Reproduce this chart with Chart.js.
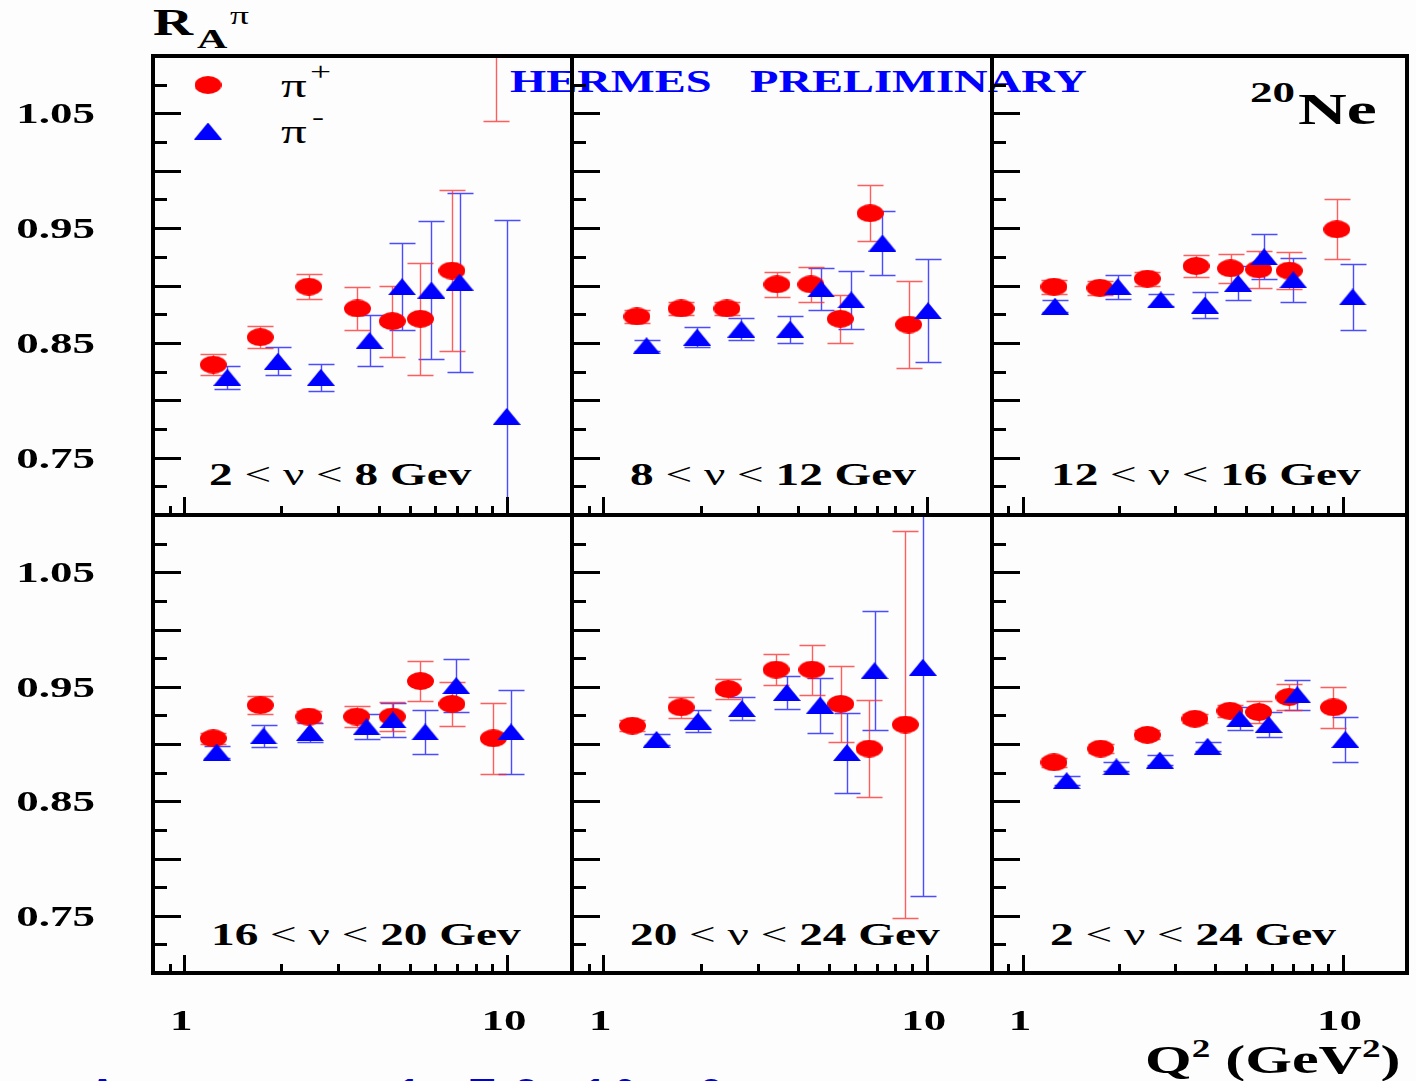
<!DOCTYPE html>
<html>
<head>
<meta charset="utf-8">
<title>R_A pi for 20Ne</title>
<script src="https://cdn.jsdelivr.net/npm/chart.js@4.4.1/dist/chart.umd.min.js"></script>
<style>
  html, body { margin: 0; padding: 0; background: #fdfdfd; }
  #page { position: relative; width: 1416px; height: 1081px; overflow: hidden; background: #fdfdfd; }
  #page canvas { position: absolute; left: 0; top: 0; }
  .t { position: absolute; white-space: pre; line-height: 1; transform: scaleX(1.5); transform-origin: 0 0;
       font-family: "Liberation Serif", "Times New Roman", serif; font-weight: bold; color: #000; }
  .t .n { font-weight: normal; }
  .t .sup { font-size: 0.62em; position: relative; top: -0.62em; }
  .blue { position: absolute; font-family: "Liberation Sans", sans-serif; font-weight: bold; font-size: 40px;
          line-height: 1; color: #0000d8; }
</style>
</head>
<body>
<div id="page"></div>
<script>
// axis ranges and ticks
const xMin = 0.8, xMax = 15.9;
const yMin = 0.70, yMax = 1.10;
const yTicks = [0.70, 0.725, 0.75, 0.775, 0.80, 0.825, 0.85, 0.875, 0.90, 0.925,
                0.95, 0.975, 1.00, 1.025, 1.05, 1.075, 1.10];
const yLabels = ['1.05', '0.95', '0.85', '0.75'];
const xTicks = [0.9, 1, 2, 3, 4, 5, 6, 7, 8, 9, 10];
const xLabels = ['1', '10'];

// 2 < nu < 8 GeV
const q2Plus_2_8   = [1.23, 1.72, 2.43, 3.44, 4.41, 5.39, 6.75, 9.25];
const rPlus_2_8    = [0.831, 0.855, 0.899, 0.880, 0.869, 0.871, 0.913, 1.160];
const errPlus_2_8  = [0.009, 0.0095, 0.0106, 0.019, 0.031, 0.049, 0.070, 0.117];
const q2Minus_2_8  = [1.36, 1.95, 2.65, 3.75, 4.73, 5.83, 7.13, 9.98];
const rMinus_2_8   = [0.820, 0.834, 0.820, 0.852, 0.899, 0.896, 0.903, 0.786];
const errMinus_2_8 = [0.010, 0.012, 0.012, 0.022, 0.038, 0.060, 0.078, 0.171];

// 8 < nu < 12 GeV
const q2Plus_8_12   = [1.27, 1.74, 2.41, 3.44, 4.38, 5.40, 6.68, 8.78];
const rPlus_8_12    = [0.873, 0.880, 0.880, 0.901, 0.901, 0.871, 0.963, 0.866];
const errPlus_8_12  = [0.006, 0.006, 0.006, 0.011, 0.015, 0.021, 0.0245, 0.038];
const q2Minus_8_12  = [1.36, 1.95, 2.67, 3.78, 4.71, 5.84, 7.29, 10.08];
const rMinus_8_12   = [0.8475, 0.855, 0.862, 0.862, 0.897, 0.8875, 0.937, 0.878];
const errMinus_8_12 = [0.005, 0.009, 0.0096, 0.0117, 0.018, 0.025, 0.028, 0.045];

// 12 < nu < 16 GeV
const q2Plus_12_16   = [1.25, 1.74, 2.45, 3.48, 4.46, 5.46, 6.81, 9.59];
const rPlus_12_16    = [0.899, 0.898, 0.906, 0.917, 0.915, 0.914, 0.913, 0.949];
const errPlus_12_16  = [0.006, 0.006, 0.006, 0.0093, 0.0128, 0.016, 0.0163, 0.026];
const q2Minus_12_16  = [1.26, 1.98, 2.70, 3.71, 4.71, 5.68, 7.01, 10.75];
const rMinus_12_16   = [0.882, 0.899, 0.8875, 0.883, 0.902, 0.925, 0.905, 0.890];
const errMinus_12_16 = [0.005, 0.0105, 0.005, 0.0114, 0.0148, 0.0195, 0.019, 0.029];

// 16 < nu < 20 GeV
const q2Plus_16_20   = [1.23, 1.72, 2.43, 3.42, 4.41, 5.39, 6.75, 9.07];
const rPlus_16_20    = [0.905, 0.934, 0.924, 0.924, 0.924, 0.955, 0.935, 0.905];
const errPlus_16_20  = [0.005, 0.0076, 0.005, 0.0095, 0.013, 0.0177, 0.019, 0.031];
const q2Minus_16_20  = [1.26, 1.76, 2.45, 3.67, 4.43, 5.58, 6.96, 10.29];
const rMinus_16_20   = [0.893, 0.907, 0.910, 0.915, 0.921, 0.9105, 0.951, 0.9105];
const errMinus_16_20 = [0.005, 0.010, 0.008, 0.011, 0.015, 0.0196, 0.023, 0.037];

// 20 < nu < 24 GeV
const q2Plus_20_24   = [1.23, 1.74, 2.43, 3.42, 4.41, 5.42, 6.63, 8.58];
const rPlus_20_24    = [0.916, 0.932, 0.948, 0.965, 0.965, 0.935, 0.896, 0.917];
const errPlus_20_24  = [0.005, 0.009, 0.009, 0.0138, 0.0218, 0.033, 0.0426, 0.169];
const q2Minus_20_24  = [1.46, 1.96, 2.68, 3.69, 4.68, 5.66, 6.89, 9.72];
const rMinus_20_24   = [0.904, 0.920, 0.931, 0.945, 0.934, 0.8925, 0.964, 0.967];
const errMinus_20_24 = [0.005, 0.0096, 0.0097, 0.0145, 0.024, 0.035, 0.052, 0.200];

// 2 < nu < 24 GeV (all)
const q2Plus_2_24   = [1.25, 1.75, 2.45, 3.45, 4.44, 5.46, 6.79, 9.36];
const rPlus_2_24    = [0.884, 0.896, 0.908, 0.922, 0.929, 0.928, 0.941, 0.932];
const errPlus_2_24  = [0.004, 0.004, 0.004, 0.004, 0.005, 0.0099, 0.011, 0.018];
const q2Minus_2_24  = [1.37, 1.96, 2.68, 3.78, 4.77, 5.87, 7.21, 10.2];
const rMinus_2_24   = [0.868, 0.880, 0.886, 0.898, 0.922, 0.917, 0.943, 0.904];
const errMinus_2_24 = [0.004, 0.004, 0.004, 0.004, 0.010, 0.0107, 0.013, 0.0195];

const bins = [
  { nu: [2, 8],   plus: [q2Plus_2_8, rPlus_2_8, errPlus_2_8],       minus: [q2Minus_2_8, rMinus_2_8, errMinus_2_8] },
  { nu: [8, 12],  plus: [q2Plus_8_12, rPlus_8_12, errPlus_8_12],    minus: [q2Minus_8_12, rMinus_8_12, errMinus_8_12] },
  { nu: [12, 16], plus: [q2Plus_12_16, rPlus_12_16, errPlus_12_16], minus: [q2Minus_12_16, rMinus_12_16, errMinus_12_16] },
  { nu: [16, 20], plus: [q2Plus_16_20, rPlus_16_20, errPlus_16_20], minus: [q2Minus_16_20, rMinus_16_20, errMinus_16_20] },
  { nu: [20, 24], plus: [q2Plus_20_24, rPlus_20_24, errPlus_20_24], minus: [q2Minus_20_24, rMinus_20_24, errMinus_20_24] },
  { nu: [2, 24],  plus: [q2Plus_2_24, rPlus_2_24, errPlus_2_24],    minus: [q2Minus_2_24, rMinus_2_24, errMinus_2_24] }
];

// panel grid (frame edges in page pixels)
const colX = [153, 572, 992, 1412];
const rowY = [56, 515, 973];
const W = 1416, H = 1081;
const page = document.getElementById('page');

function addText(x, baseline, size, html, extra) {
  const d = document.createElement('div');
  d.className = 't';
  d.style.left = x + 'px';
  d.style.top = (baseline - 0.8375 * size) + 'px';
  d.style.fontSize = size + 'px';
  d.innerHTML = html;
  if (extra) Object.assign(d.style, extra);
  page.appendChild(d);
}

// y axis title R_A^pi
addText(153, 35, 37, 'R');
addText(197, 48, 28, 'A');
addText(230, 24, 25, '<span class="n">π</span>');

addText(510, 92, 31, 'HERMES', { color: '#0000ff' });
addText(750, 92, 31, 'PRELIMINARY', { color: '#0000ff' });
addText(1250, 102, 30, '20');
addText(1298, 125, 45, 'Ne');

// legend labels
addText(281, 97, 34, '<span class="n">π</span>');
addText(310, 80, 25, '<span class="n">+</span>');
addText(281, 143, 34, '<span class="n">π</span>');
addText(312, 125, 24, '<span class="n">-</span>');

// nu bin labels
const labelX = [209, 630, 1051, 211, 630, 1050];
bins.forEach((b, i) => {
  const row = Math.floor(i / 3);
  addText(labelX[i], row === 0 ? 485 : 945, 31.5,
    b.nu[0] + '<span class="n"> &lt; ν &lt; </span>' + b.nu[1] + ' Gev');
});

addText(1145, 1073, 40, 'Q<span class="sup">2</span> (GeV<span class="sup">2</span>)');

// caption line running off the bottom edge
[[88, 'A'], [398, '1'], [470, 'T'], [515, '8'], [584, '1'], [614, '0'], [700, '2']].forEach(([x, ch]) => {
  const s = document.createElement('div');
  s.className = 'blue';
  s.style.left = x + 'px';
  s.style.top = '1073px';
  s.textContent = ch;
  page.appendChild(s);
});

function makeMarker(shape, w, h, color) {
  const c = document.createElement('canvas');
  c.width = w; c.height = h;
  const g = c.getContext('2d');
  g.fillStyle = color;
  g.beginPath();
  shape(g, w, h);
  g.fill();
  return c;
}
const circleMark = makeMarker((g, w, h) => g.ellipse(w / 2, h / 2, w / 2, h / 2, 0, 0, Math.PI * 2), 27, 18, '#ff0000');
const triangleMark = makeMarker((g, w, h) => { g.moveTo(w / 2, 0); g.lineTo(w, h); g.lineTo(0, h); g.closePath(); }, 28, 17, '#0000ff');

const labelFont = 'bold 30px "Liberation Serif", "Times New Roman", serif';

// frame, inward ticks, error bars and axis labels for one panel
const panelFrame = {
  id: 'panelFrame',
  beforeDatasetsDraw(chart) {
    const { ctx, chartArea: a, scales: { x, y } } = chart;
    ctx.save();
    ctx.beginPath();
    ctx.rect(a.left, a.top, a.right - a.left, a.bottom - a.top);
    ctx.clip();
    ctx.lineWidth = 1.4;
    chart.data.datasets.forEach(ds => {
      ctx.strokeStyle = ds.barColor;
      ds.data.forEach((p, i) => {
        const e = ds.errors[i];
        const px = Math.round(x.getPixelForValue(p.x)) + 0.5;
        const lo = Math.round(y.getPixelForValue(p.y - e)) + 0.5;
        const hi = Math.round(y.getPixelForValue(p.y + e)) + 0.5;
        ctx.beginPath();
        ctx.moveTo(px, lo); ctx.lineTo(px, hi);
        ctx.moveTo(px - 13, lo); ctx.lineTo(px + 13, lo);
        ctx.moveTo(px - 13, hi); ctx.lineTo(px + 13, hi);
        ctx.stroke();
      });
    });
    ctx.restore();
  },
  afterDraw(chart, args, opts) {
    const { ctx, chartArea: a, scales: { x, y } } = chart;
    ctx.save();
    ctx.strokeStyle = '#000';
    ctx.lineWidth = 3;
    ctx.beginPath();
    yTicks.forEach(v => {
      const py = Math.round(y.getPixelForValue(v)) + 0.5;
      const len = Math.round(v * 1000) % 50 === 0 ? 28 : 14;
      ctx.moveTo(a.left, py); ctx.lineTo(a.left + len, py);
    });
    xTicks.forEach(v => {
      const px = Math.round(x.getPixelForValue(v)) + 0.5;
      const len = (v === 1 || v === 10) ? 18 : 9;
      ctx.moveTo(px, a.bottom); ctx.lineTo(px, a.bottom - len);
    });
    ctx.stroke();
    ctx.lineWidth = 4;
    ctx.strokeRect(a.left, a.top, a.right - a.left, a.bottom - a.top);

    ctx.fillStyle = '#000';
    ctx.font = labelFont;
    if (opts.col === 0) {
      ctx.textAlign = 'right';
      yLabels.forEach(lab => {
        const py = y.getPixelForValue(Number(lab));
        ctx.save();
        ctx.translate(a.left - 58, py + 10);
        ctx.scale(1.5, 1);
        ctx.fillText(lab, 0, 0);
        ctx.restore();
      });
    }
    if (opts.row === 1) {
      ctx.textAlign = 'center';
      xLabels.forEach(lab => {
        const px = x.getPixelForValue(Number(lab));
        ctx.save();
        ctx.translate(px - 3, a.bottom + 57);
        ctx.scale(1.5, 1);
        ctx.fillText(lab, 0, 0);
        ctx.restore();
      });
    }
    if (opts.legend) {
      ctx.drawImage(circleMark, a.left + 55 - circleMark.width / 2, a.top + 29 - circleMark.height / 2);
      ctx.drawImage(triangleMark, a.left + 55 - triangleMark.width / 2, a.top + 75 - triangleMark.height / 2);
    }
    ctx.restore();
  }
};

function toPoints(q2, r) {
  return q2.map((q, i) => ({ x: q, y: r[i] }));
}

bins.forEach((b, i) => {
  const row = Math.floor(i / 3), col = i % 3;
  const canvas = document.createElement('canvas');
  canvas.width = W; canvas.height = H;
  page.appendChild(canvas);

  new Chart(canvas, {
    type: 'scatter',
    data: {
      datasets: [
        {
          label: 'π-',
          data: toPoints(b.minus[0], b.minus[1]),
          errors: b.minus[2],
          barColor: 'rgba(30, 30, 255, 0.8)',
          pointStyle: triangleMark,
          pointRadius: 8,
          order: 0
        },
        {
          label: 'π+',
          data: toPoints(b.plus[0], b.plus[1]),
          errors: b.plus[2],
          barColor: 'rgba(255, 40, 40, 0.75)',
          pointStyle: circleMark,
          pointRadius: 8,
          order: 1
        }
      ]
    },
    options: {
      responsive: false,
      animation: false,
      devicePixelRatio: 1,
      events: [],
      layout: {
        padding: { left: colX[col], right: W - colX[col + 1], top: rowY[row], bottom: H - rowY[row + 1] }
      },
      scales: {
        x: { type: 'logarithmic', min: xMin, max: xMax, display: false },
        y: { type: 'linear', min: yMin, max: yMax, display: false }
      },
      plugins: {
        legend: { display: false },
        tooltip: { enabled: false },
        panelFrame: { row: row, col: col, legend: i === 0 }
      }
    },
    plugins: [panelFrame]
  });
});
</script>
</body>
</html>
